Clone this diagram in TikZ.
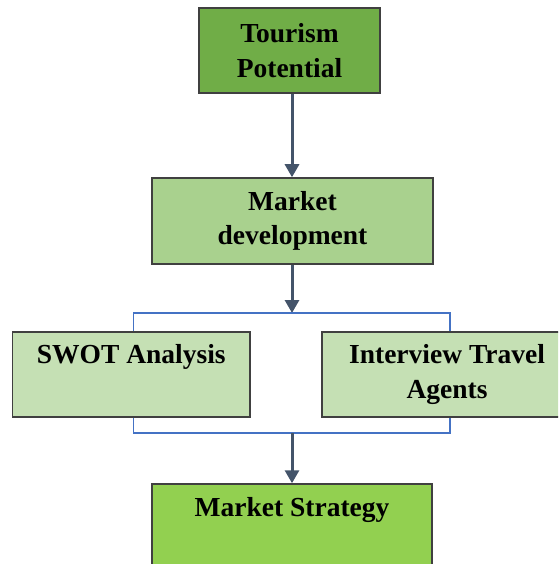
\documentclass[tikz,border=0pt]{standalone}
\usepackage{fontspec}
\setmainfont{Liberation Serif}
\usetikzlibrary{arrows.meta}
\definecolor{gdark}{HTML}{70AD47}
\definecolor{gmid}{HTML}{A9D18E}
\definecolor{glight}{HTML}{C5E0B4}
\definecolor{gbright}{HTML}{92D050}
\definecolor{bordc}{HTML}{404040}
\definecolor{arrc}{HTML}{44546A}
\definecolor{brkc}{HTML}{4472C4}
\tikzset{
  box/.style={draw=bordc, line width=1.5pt, rectangle, inner sep=0pt, align=center,
    font=\bfseries\fontsize{27.5}{34.5}\selectfont},
  arr/.style={draw=arrc, line width=3pt, -{Triangle[length=13pt,width=14pt]}},
  brk/.style={draw=brkc, line width=1.5pt}
}
\begin{document}
\begin{tikzpicture}[x=1pt,y=1pt]
\useasboundingbox (0,0) rectangle (558,-564);
\clip (0,0) rectangle (558,-564);
\node[box, fill=gdark, minimum width=181pt, minimum height=85pt] (tour) at (289.5,-50.5) {Tourism\\Potential};
\node[box, fill=gmid, minimum width=281pt, minimum height=86pt] (mdev) at (292.5,-221) {Market\\development};
\node[box, fill=glight, minimum width=237.5pt, minimum height=85pt] (swot) at (131.25,-374.5) {SWOT Analysis\\\phantom{Ag}};
\node[box, fill=glight, minimum width=250pt, minimum height=85pt] (intv) at (447,-374.5) {Interview Travel\\Agents};
\node[box, fill=gbright, minimum width=280pt, minimum height=86pt] (ms) at (292,-527) {Market Strategy\\\phantom{Ag}};
\coordinate (bt) at (292,-313);
\coordinate (bb) at (292,-433);
\draw[arr] (tour.south -| bt) -- (mdev.north -| bt);
\draw[arr] (mdev.south -| bt) -- (bt);
\draw[brk] ([xshift=2pt]swot.north) |- (bt) -| ([xshift=3pt]intv.north);
\draw[brk] ([xshift=2pt]swot.south) |- (bb) -| ([xshift=3pt]intv.south);
\draw[arr] (bb) -- (ms.north -| bb);
\end{tikzpicture}
\end{document}
